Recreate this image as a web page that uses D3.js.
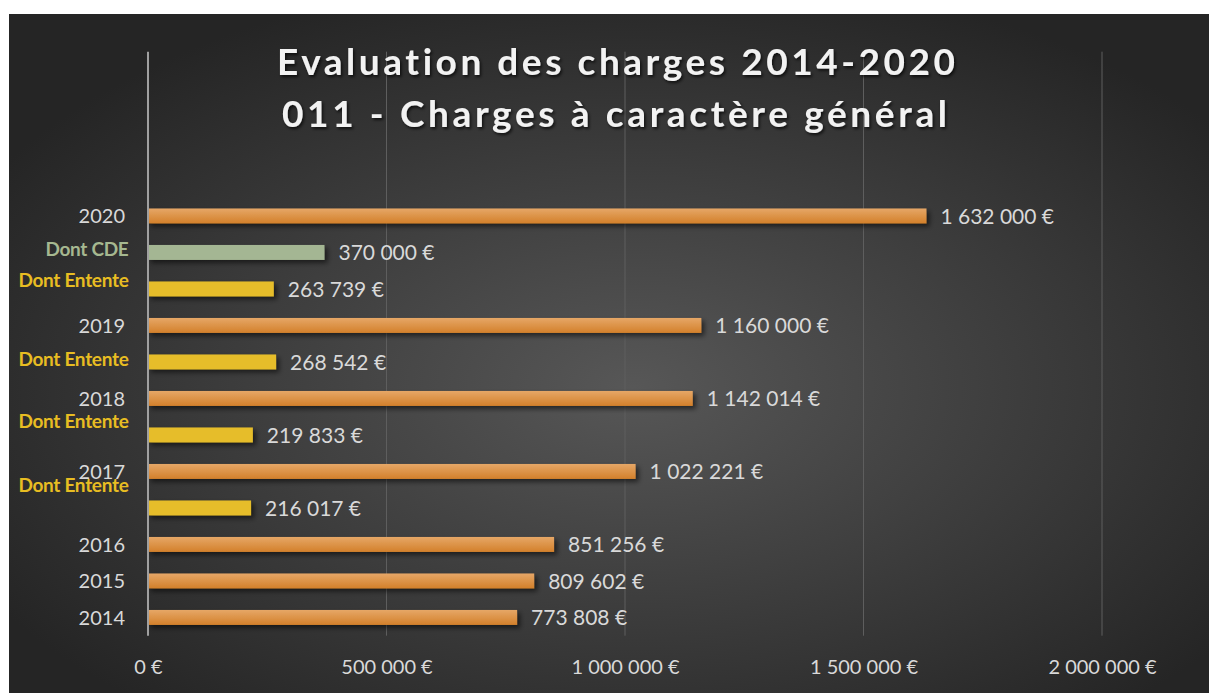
<!DOCTYPE html>
<html>
<head>
<meta charset="utf-8">
<script src="https://cdn.jsdelivr.net/npm/d3@7"></script>
<style>
body{margin:0;background:#ffffff;}
svg{display:block;}
text{font-variant-ligatures:none;}
</style>
</head>
<body>
<script>
// DATA

// categories from top to bottom (4 empty rows above 2020, like in the sheet)
var category_keys = ["b1","b2","b3","b4","2020","2020cde","2020ent","2019","2019ent","2018","2018ent","2017","2017ent","2016","2015","2014"];
var category_labels = ["","","","","2020","Dont CDE","Dont Entente","2019","Dont Entente","2018","Dont Entente","2017","Dont Entente","2016","2015","2014"];
var category_types = ["","","","","total","cde","entente","total","entente","total","entente","total","entente","total","total","total"];
var charges_values = [null,null,null,null,1632000,370000,263739,1160000,268542,1142014,219833,1022221,216017,851256,809602,773808];
var x_ticks = [0,500000,1000000,1500000,2000000];
var title_lines = ["Evaluation des charges 2014-2020","011 - Charges à caractère général"];

// label nudges (the "Dont ..." labels sit a bit above their bars in the original)
var label_dy = [0,0,0,0,0,-3.5,-8.5,0,-3,0,-13.5,0,-23,0,0,0];

var width = 1209, height = 693;
var plot = {left:148, right:1102, top:51.7, bottom:635.7};

var fr = d3.formatLocale({decimal:",", thousands:" ", grouping:[3], currency:[""," €"]});
var euro = fr.format("$,.0f");

var svg = d3.select("body")
	.append("svg")
	.attr("width",width)
	.attr("height",height);

var defs = svg.append("defs");

var bg = defs.append("radialGradient")
	.attr("id","bg_grad")
	.attr("cx","52%").attr("cy","55%").attr("r","62%");
bg.append("stop").attr("offset","0%").attr("stop-color","#575757");
bg.append("stop").attr("offset","100%").attr("stop-color","#252525");

var orange = defs.append("linearGradient")
	.attr("id","orange_grad")
	.attr("x1",0).attr("y1",0).attr("x2",0).attr("y2",1);
orange.append("stop").attr("offset","0%").attr("stop-color","#e6a767");
orange.append("stop").attr("offset","100%").attr("stop-color","#d3802a");

var shadow = defs.append("filter")
	.attr("id","bar_shadow")
	.attr("x","-5%").attr("y","-50%").attr("width","115%").attr("height","250%");
shadow.append("feDropShadow")
	.attr("dx",3).attr("dy",3).attr("stdDeviation",2.5)
	.attr("flood-color","#000").attr("flood-opacity",0.55);

var tshadow = defs.append("filter")
	.attr("id","title_shadow")
	.attr("x","-5%").attr("y","-30%").attr("width","110%").attr("height","160%");
tshadow.append("feDropShadow")
	.attr("dx",1.5).attr("dy",2).attr("stdDeviation",1.5)
	.attr("flood-color","#000").attr("flood-opacity",0.7);

// background
svg.append("rect")
	.attr("x",9).attr("y",14)
	.attr("width",width-9).attr("height",height-14)
	.attr("fill","url(#bg_grad)");

// SCALES
var x = d3.scaleLinear()
	.domain([0,2000000])
	.range([plot.left,plot.right]);

var y = d3.scaleBand()
	.domain(category_keys)
	.range([plot.top,plot.bottom])
	.paddingInner(0.59)
	.paddingOuter(0.295);

var colors = {"total":"url(#orange_grad)","cde":"#a4b693","entente":"#e6bd2a"};
var label_colors = {"total":"#d9d9d9","cde":"#a6b890","entente":"#e8bd22"};

// grid lines
svg.append("g")
	.selectAll("line")
	.data(x_ticks.slice(1))
	.enter()
	.append("line")
	.attr("x1",function(d){return x(d)})
	.attr("x2",function(d){return x(d)})
	.attr("y1",plot.top)
	.attr("y2",plot.bottom)
	.attr("stroke","#5e5e5e")
	.attr("stroke-width",1);

// x axis labels
var x_axis = svg.append("g")
	.attr("transform","translate(0,"+(plot.bottom+38)+")")
	.call(d3.axisBottom(x).tickValues(x_ticks).tickFormat(euro).tickSize(0).tickPadding(0));
x_axis.select(".domain").remove();
x_axis.selectAll("text")
	.attr("fill","#d9d9d9")
	.attr("font-family","Lato, sans-serif")
	.attr("font-size","20px")
	.attr("dy","0");

var rows = category_keys.map(function(k,i){
	return {"key":k,"label":category_labels[i],"type":category_types[i],"value":charges_values[i],"dy":label_dy[i]};
});
var bars_data = rows.filter(function(d){return d.value!==null});

// bars
svg.append("g")
	.selectAll("rect")
	.data(bars_data)
	.enter()
	.append("rect")
	.attr("x",x(0))
	.attr("y",function(d){return y(d.key)})
	.attr("width",function(d){return x(d.value)-x(0)})
	.attr("height",y.bandwidth())
	.attr("fill",function(d){return colors[d.type]})
	.attr("filter","url(#bar_shadow)");

// vertical axis line
svg.append("line")
	.attr("x1",x(0)).attr("x2",x(0))
	.attr("y1",plot.top).attr("y2",plot.bottom)
	.attr("stroke","#a0a0a0")
	.attr("stroke-width",2);

// value labels
svg.append("g")
	.selectAll("text")
	.data(bars_data)
	.enter()
	.append("text")
	.attr("x",function(d){return x(d.value)+14})
	.attr("y",function(d){return y(d.key)+y.bandwidth()/2})
	.attr("dy","0.36em")
	.attr("fill","#d9d9d9")
	.attr("font-family","Lato, sans-serif")
	.attr("font-size","21px")
	.text(function(d){return euro(d.value)});

// category labels
svg.append("g")
	.selectAll("text")
	.data(rows.filter(function(d){return d.label!==""}))
	.enter()
	.append("text")
	.attr("x",function(d){return d.type=="total" ? 125 : 128.5})
	.attr("y",function(d){return y(d.key)+y.bandwidth()/2+d.dy})
	.attr("dy","0.36em")
	.attr("text-anchor","end")
	.attr("fill",function(d){return label_colors[d.type]})
	.attr("font-family","Lato, sans-serif")
	.attr("font-weight",function(d){return d.type=="total" ? "normal" : "bold"})
	.attr("font-size",function(d){return d.type=="total" ? "20px" : "19px"})
	.attr("letter-spacing",function(d){return d.type=="total" ? "0" : "-0.3px"})
	.text(function(d){return d.label});

// title
svg.append("g")
	.selectAll("text")
	.data(title_lines)
	.enter()
	.append("text")
	.attr("x",function(d,i){return i==0 ? 616 : 614.5})
	.attr("y",function(d,i){return i==0 ? 75 : 126.5})
	.attr("text-anchor","middle")
	.attr("textLength",function(d,i){return i==0 ? 678 : 665})
	.attr("lengthAdjust","spacing")
	.attr("fill","#f2f2f2")
	.attr("font-family","Lato, sans-serif")
	.attr("font-weight","bold")
	.attr("font-size","37px")
	.attr("filter","url(#title_shadow)")
	.text(function(d){return d});
</script>
</body>
</html>
